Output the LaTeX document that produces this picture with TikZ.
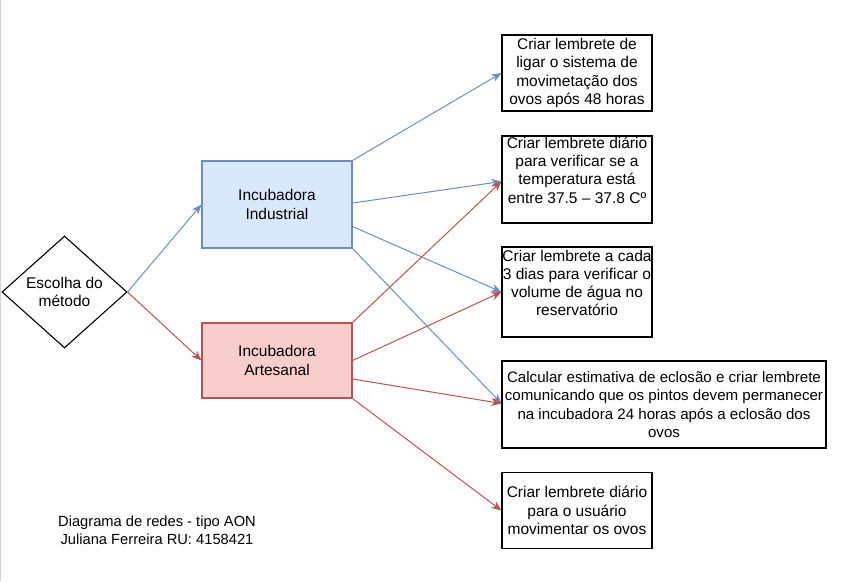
\documentclass[tikz,border=0pt]{standalone}
\usepackage{fontspec}
\setmainfont{Liberation Sans}
\usetikzlibrary{shapes.geometric,arrows.meta}
\definecolor{blueline}{HTML}{6C8EBF}
\definecolor{bluefill}{HTML}{DAE8FC}
\definecolor{redline}{HTML}{B85450}
\definecolor{redfill}{HTML}{F8CECC}
\tikzset{
  txt/.style={font=\fontsize{15.5}{18.3}\selectfont, align=center, inner sep=0pt},
  taskbox/.style={draw=black, line width=1.1pt, inner sep=0pt, txt},
  indbox/.style={draw=blueline, fill=bluefill, line width=1.1pt, inner sep=0pt, minimum width=150pt, txt},
  artbox/.style={draw=redline, fill=redfill, line width=1.1pt, inner sep=0pt, minimum width=150pt, txt},
  decision/.style={diamond, draw=black, line width=1.1pt, inner sep=0pt, minimum width=125pt, minimum height=112pt, txt},
  bluearrow/.style={draw=blueline, line width=1pt, -{Stealth[length=10pt,width=8pt,inset=3pt]}},
  redarrow/.style={draw=redline, line width=1pt, -{Stealth[length=10pt,width=8pt,inset=3pt]}}
}
\begin{document}
\begin{tikzpicture}[x=1pt,y=-1pt]
\useasboundingbox (0,0) rectangle (867,581);
\draw[gray!35, line width=1pt] (0.5,0) -- (0.5,581);

\node[decision] (diam) at (64.5,292) {Escolha do\\método};
\node[indbox, minimum height=87pt] (ind) at (277,204.5) {Incubadora\\Industrial};
\node[artbox, minimum height=75pt] (art) at (277,360.5) {Incubadora\\Artesanal};

\node[taskbox, minimum width=150pt, minimum height=76pt] (box1) at (577,73) {Criar lembrete de\\ligar o sistema de\\movimetação dos\\ovos após 48 horas};
\node[taskbox, minimum width=150pt, minimum height=87pt] (box2) at (577,179.5) {};
\node[txt] (t2) at (577,170) {Criar lembrete diário\\para verificar se a\\temperatura está\\entre 37.5 – 37.8 Cº};
\node[taskbox, minimum width=150pt, minimum height=90pt] (box3) at (577,292) {};
\node[txt] (t3) at (577,283) {Criar lembrete a cada\\3 dias para verificar o\\volume de água no\\reservatório};
\node[taskbox, minimum width=324pt, minimum height=87pt, font=\fontsize{15.1}{18.3}\selectfont] (box4) at (664,404.5) {Calcular estimativa de eclosão e criar lembrete\\comunicando que os pintos devem permanecer\\na incubadora 24 horas após a eclosão dos\\ovos};
\node[taskbox, minimum width=150pt, minimum height=76pt] (box5) at (577,510.5) {Criar lembrete diário\\para o usuário\\movimentar os ovos};

\node[txt, font=\fontsize{14.7}{18.3}\selectfont] (foot) at (157,530) {Diagrama de redes - tipo AON\\Juliana Ferreira RU: 4158421};

\draw[bluearrow] (diam.east) -- (ind.west);
\draw[redarrow] (diam.east) -- (art.west);

\draw[bluearrow] (ind.north east) -- (box1.west);
\draw[bluearrow] ([yshift=1.5pt]ind.east) -- ([yshift=-2pt]box2.west);
\draw[bluearrow] ([yshift=-22pt]ind.east) -- (box3.west);
\draw[bluearrow] (ind.south east) -- ([yshift=1pt]box4.west);

\draw[redarrow] (art.north east) -- ([yshift=-2pt]box2.west);
\draw[redarrow] (art.east) -- (box3.west);
\draw[redarrow] ([yshift=-18.5pt]art.east) -- ([yshift=1pt]box4.west);
\draw[redarrow] (art.south east) -- (box5.west);
\end{tikzpicture}
\end{document}
